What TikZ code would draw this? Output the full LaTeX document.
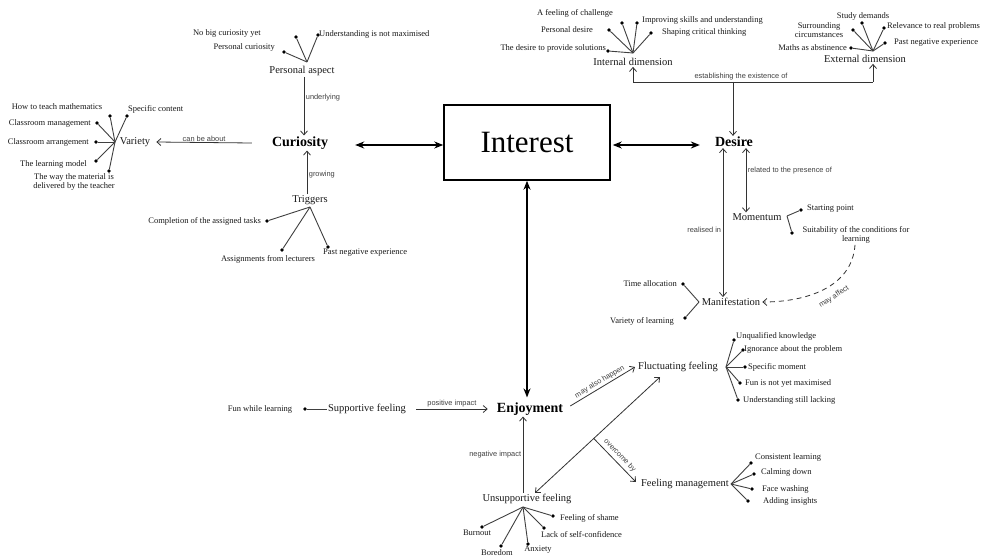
\documentclass[tikz,border=0pt]{standalone}
\usepackage{fontspec}
\setmainfont{Liberation Serif}
\newfontfamily\edgefont{Liberation Sans}
\usetikzlibrary{arrows.meta}

\begin{document}
\begin{tikzpicture}[x=1pt,y=-1pt,
  every node/.style={inner sep=1pt},
  leaf/.style={font=\fontsize{8.5}{9.6}\selectfont, text=black!90, align=center},
  concept/.style={font=\fontsize{10.5}{12}\selectfont, text=black!90},
  keyterm/.style={font=\bfseries\fontsize{14}{16}\selectfont},
  dot/.style={circle, fill=black, inner sep=0pt, minimum size=3.6pt},
  branch/.style={line width=0.9pt, draw=black!75},
  rel/.style={line width=0.8pt, draw=black!80, -{Straight Barb[length=4pt,width=7pt]}},
  relboth/.style={line width=0.8pt, draw=black!80, {Straight Barb[length=4pt,width=7pt]}-{Straight Barb[length=4pt,width=7pt]}},
  rellab/.style={font=\edgefont\fontsize{7.4}{8.5}\selectfont, text=black!75, inner sep=1.5pt},
  bigarrow/.style={line width=1.6pt, {Stealth[length=9pt,width=7pt]}-{Stealth[length=9pt,width=7pt]}},
]
\useasboundingbox[fill=white] (0,0) rectangle (990,559);

% ---------- main concepts ----------
\node[draw, line width=1.5pt, minimum width=166pt, minimum height=75pt,
      font=\fontsize{31}{35}\selectfont] (interest) at (527,142.5) {Interest};
\node[keyterm] (cur) at (300,143) {Curiosity};
\node[keyterm] (desire) at (734,142) {Desire};
\node[keyterm] (enj) at (530,409) {Enjoyment};

\draw[bigarrow] ([xshift=26pt,yshift=-2pt]cur.east) -- ([yshift=-2.5pt]interest.west);
\draw[bigarrow] ([xshift=2pt,yshift=-2.5pt]interest.east) -- ([xshift=-14pt,yshift=-3pt]desire.west);
\draw[bigarrow] (interest.south) -- ([yshift=4pt]enj.north -| interest.south);

% ---------- personal aspect ----------
\node[concept] (pa) at (302,71) {Personal aspect};
\coordinate (pah) at (307,62);
\node[dot] (pa1) at (284,52) {};
\node[dot] (pa2) at (296,37) {};
\node[dot] (pa3) at (318,35) {};
\foreach \d in {pa1,pa2,pa3} \draw[branch] (pah) -- (\d);
\node[leaf, anchor=east] (pa1t) at (276,47) {Personal curiosity};
\node[leaf, anchor=east] (pa2t) at (262,33) {No big curiosity yet};
\node[leaf, anchor=west] (pa3t) at (318,34) {Understanding is not maximised};
\draw[rel] ([xshift=2pt]pa.south) -- node[rellab, right, pos=.35] {underlying} ([xshift=4pt]cur.north);

% ---------- triggers ----------
\node[concept] (trg) at (310,200) {Triggers};
\coordinate (trh) at (310,207);
\node[dot] (tr1) at (267,221) {};
\node[dot] (tr2) at (282,250) {};
\node[dot] (tr3) at (328,247) {};
\foreach \d in {tr1,tr2,tr3} \draw[branch] (trh) -- (\d);
\node[leaf, anchor=east] (tr1t) at (262,221) {Completion of the assigned tasks};
\node[leaf] (tr2t) at (268,259) {Assignments from lecturers};
\node[leaf, anchor=west] (tr3t) at (322,253) {Past negative experience};
\draw[rel] ([xshift=-3pt]trg.north) -- node[rellab, right, pos=.45] {growing} ([xshift=7pt]cur.south);

% ---------- variety ----------
\node[concept] (var) at (135,142) {Variety};
\coordinate (vah) at (115,142);
\node[dot] (v1) at (110,116) {};
\node[dot] (v2) at (127,116) {};
\node[dot] (v3) at (97,123) {};
\node[dot] (v4) at (96,142) {};
\node[dot] (v5) at (96,161) {};
\node[dot] (v6) at (109,171) {};
\foreach \d in {v1,v2,v3,v4,v5,v6} \draw[branch] (vah) -- (\d);
\node[leaf] (v1t) at (57,107) {How to teach mathematics};
\node[leaf, anchor=west] (v2t) at (127,109) {Specific content};
\node[leaf, anchor=east] (v3t) at (92,123) {Classroom management};
\node[leaf, anchor=east] (v4t) at (90,142) {Classroom arrangement};
\node[leaf, anchor=east] (v5t) at (88,164) {The learning model};
\node[leaf] (v6t) at (74,182) {The way the material is\\delivered by the teacher};
\draw[rel] ([xshift=-19pt]cur.west) -- node[rellab, above=-1pt] {can be about} ([xshift=5pt]var.east);

% ---------- internal dimension ----------
\node[concept] (intd) at (633,62) {Internal dimension};
\coordinate (inh) at (633,53);
\node[dot] (i1) at (608,51) {};
\node[dot] (i2) at (609,30) {};
\node[dot] (i3) at (622,23) {};
\node[dot] (i4) at (637,23) {};
\node[dot] (i5) at (651,33) {};
\foreach \d in {i1,i2,i3,i4,i5} \draw[branch] (inh) -- (\d);
\node[leaf, anchor=east] (i1t) at (607,48) {The desire to provide solutions};
\node[leaf] (i2t) at (567,30) {Personal desire};
\node[leaf] (i3t) at (575,13) {A feeling of challenge};
\node[leaf, anchor=west] (i4t) at (641,20) {Improving skills and understanding};
\node[leaf, anchor=west] (i5t) at (661,32) {Shaping critical thinking};

% ---------- external dimension ----------
\node[concept] (extd) at (865,59) {External dimension};
\coordinate (exh) at (873,51);
\node[dot] (e1) at (851,48) {};
\node[dot] (e2) at (853,30) {};
\node[dot] (e3) at (862,23) {};
\node[dot] (e4) at (884,28) {};
\node[dot] (e5) at (885,43) {};
\foreach \d in {e1,e2,e3,e4,e5} \draw[branch] (exh) -- (\d);
\node[leaf, anchor=east] (e1t) at (848,48) {Maths as abstinence};
\node[leaf] (e2t) at (819,30) {Surrounding\\circumstances};
\node[leaf] (e3t) at (863,16) {Study demands};
\node[leaf, anchor=west] (e4t) at (886,26) {Relevance to real problems};
\node[leaf, anchor=west] (e5t) at (893,43) {Past negative experience};

% establishing the existence of
\coordinate (estj) at (733,82);
\coordinate (estl) at (633,82);
\coordinate (estr) at (873,82);
\draw[line width=0.8pt, draw=black!80] (estl) -- node[rellab, above, pos=.45] {establishing the existence of} (estr);
\draw[rel] (estl) -- (intd.south);
\draw[rel] (estr) -- (extd.south -| estr);
\draw[rel] (estj) -- ([xshift=-1pt]desire.north);

% ---------- momentum ----------
\node[concept] (mom) at (757,217) {Momentum};
\draw[relboth] ([xshift=12pt]desire.south) -- node[rellab, right, pos=.35] {related to the presence of} ([xshift=-11pt]mom.north);
\coordinate (moh) at (787,216);
\node[dot] (m1) at (801,210) {};
\node[dot] (m2) at (792,233) {};
\foreach \d in {m1,m2} \draw[branch] (moh) -- (\d);
\node[leaf, anchor=west] (m1t) at (806,209) {Starting point};
\node[leaf] (suit) at (856,235) {Suitability of the conditions for\\learning};

% ---------- manifestation ----------
\node[concept] (man) at (731,302) {Manifestation};
\draw[relboth] ([xshift=-11pt]desire.south) -- node[rellab, left, pos=.55] {realised in} ([xshift=-8pt]man.north);
\coordinate (mah) at (699,302);
\node[dot] (mf1) at (683,284) {};
\node[dot] (mf2) at (685,318) {};
\foreach \d in {mf1,mf2} \draw[branch] (mah) -- (\d);
\node[leaf, anchor=east] (mf1t) at (678,284) {Time allocation};
\node[leaf, anchor=east] (mf2t) at (675,321) {Variety of learning};
\draw[rel, dashed, dash pattern=on 5pt off 4pt] ([xshift=-1pt]suit.south) .. controls (852,288) and (805,302) .. ([xshift=1pt]man.east);
\node[rellab, rotate=33] (mayaff) at (834,297) {may affect};

% ---------- enjoyment side ----------
\node[concept] (flu) at (678,367) {Fluctuating feeling};
\node[concept] (sup) at (367,409) {Supportive feeling};
\node[concept] (uns) at (527,499) {Unsupportive feeling};
\node[concept] (fm) at (685,484) {Feeling management};

\draw[rel] ([xshift=6pt,yshift=3pt]enj.east) -- node[rellab, sloped, above] {may also happen} ([xshift=-2pt]flu.west);
\draw[rel] ([xshift=9pt]sup.east) -- node[rellab, above] {positive impact} ([xshift=-8pt]enj.west);
\draw[rel] ([xshift=-4pt]uns.north) -- node[rellab, left, pos=.5] {negative impact} ([xshift=-7pt]enj.south);
\draw[relboth] ([xshift=8pt]uns.north) -- coordinate[pos=.47] (ovb) ([xshift=-18pt,yshift=-4pt]flu.south);
\draw[rel] (ovb) -- node[rellab, sloped, above=1.5pt] {overcome by} ([xshift=-4pt,yshift=2pt]fm.west);

% fun while learning
\node[leaf] (fwl) at (260,409) {Fun while learning};
\node[dot] (fwd) at (305,409) {};
\draw[branch] (sup.west) -- (fwd);

% fluctuating feeling details
\coordinate (flh) at (726,367);
\node[dot] (f1) at (734,340) {};
\node[dot] (f2) at (743,350) {};
\node[dot] (f3) at (745,367) {};
\node[dot] (f4) at (740,383) {};
\node[dot] (f5) at (738,400) {};
\foreach \d in {f1,f2,f3,f4,f5} \draw[branch] (flh) -- (\d);
\node[leaf, anchor=west] (f1t) at (735,336) {Unqualified knowledge};
\node[leaf, anchor=west] (f2t) at (743,349) {Ignorance about the problem};
\node[leaf, anchor=west] (f3t) at (747,367) {Specific moment};
\node[leaf, anchor=west] (f4t) at (744,383) {Fun is not yet maximised};
\node[leaf, anchor=west] (f5t) at (742,400) {Understanding still lacking};

% unsupportive feeling details
\coordinate (unh) at (523,507);
\node[dot] (u1) at (482,527) {};
\node[dot] (u2) at (501,546) {};
\node[dot] (u3) at (528,544) {};
\node[dot] (u4) at (544,528) {};
\node[dot] (u5) at (553,516) {};
\foreach \d in {u1,u2,u3,u4,u5} \draw[branch] (unh) -- (\d);
\node[leaf] (u1t) at (477,533) {Burnout};
\node[leaf] (u2t) at (497,553) {Boredom};
\node[leaf] (u3t) at (538,550) {Anxiety};
\node[leaf, anchor=west] (u4t) at (540,535) {Lack of self-confidence};
\node[leaf, anchor=west] (u5t) at (559,518) {Feeling of shame};

% feeling management details
\coordinate (fmh) at (731,484);
\node[dot] (g1) at (751,463) {};
\node[dot] (g2) at (754,474) {};
\node[dot] (g3) at (752,489) {};
\node[dot] (g4) at (748,501) {};
\foreach \d in {g1,g2,g3,g4} \draw[branch] (fmh) -- (\d);
\node[leaf, anchor=west] (g1t) at (754,457) {Consistent learning};
\node[leaf, anchor=west] (g2t) at (760,472) {Calming down};
\node[leaf, anchor=west] (g3t) at (761,489) {Face washing};
\node[leaf, anchor=west] (g4t) at (762,501) {Adding insights};
\end{tikzpicture}
\end{document}
